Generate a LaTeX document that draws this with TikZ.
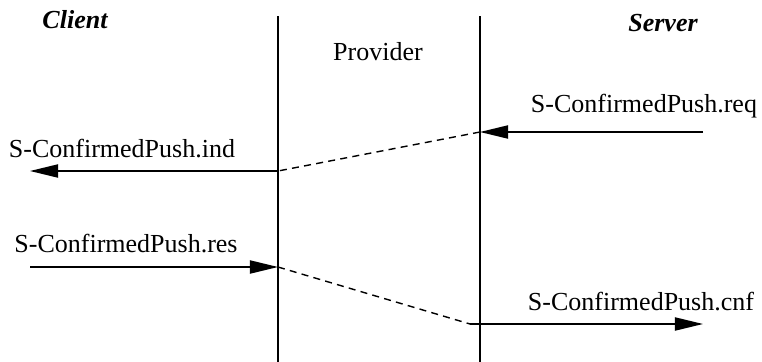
\documentclass[tikz,border=0pt]{standalone}
\usepackage{fontspec}
\setmainfont{Liberation Serif}
\usetikzlibrary{arrows.meta}

\begin{document}
\begin{tikzpicture}[x=0.02cm, y=-0.02cm, font=\fontsize{14.8}{17}\selectfont,
        party/.style={anchor=base, font=\fontsize{14.8}{17}\selectfont\bfseries\itshape},
        prim/.style={anchor=base},
        msg/.style={draw=black, line width=0.9pt, -{Triangle[length=16pt,width=7.5pt]}},
        relay/.style={draw=black, line width=0.8pt, dash pattern=on 4pt off 3pt}]
        \useasboundingbox (0, 0) rectangle (762, 362);

        \coordinate (l_top) at (278, 16);
        \coordinate (l_bot) at (278, 362);
        \coordinate (r_top) at (480, 16);
        \coordinate (r_bot) at (480, 362);

        \coordinate (req_start) at (703, 132);
        \coordinate (req_end) at (480, 132);
        \coordinate (ind_start) at (278, 171);
        \coordinate (ind_end) at (30, 171);
        \coordinate (res_start) at (30, 267);
        \coordinate (res_end) at (278, 267);
        \coordinate (cnf_start) at (470, 324);
        \coordinate (cnf_end) at (703, 324);

        \node[party] (client) at (75, 28) {Client};
        \node[party] (server) at (663, 31) {Server};
        \node[prim] (provider) at (378, 60) {Provider};

        \node[prim] (req_text) at (644, 112) {S-ConfirmedPush.req};
        \node[prim] (ind_text) at (122, 157) {S-ConfirmedPush.ind};
        \node[prim] (res_text) at (126, 252) {S-ConfirmedPush.res};
        \node[prim] (cnf_text) at (641, 310) {S-ConfirmedPush.cnf};

        \draw[draw=black, line width=1pt] (l_top) -- (l_bot);
        \draw[draw=black, line width=1pt] (r_top) -- (r_bot);

        \draw[msg] (req_start) -- (req_end);
        \draw[relay] (req_end) -- (ind_start);
        \draw[msg] (ind_start) -- (ind_end);

        \draw[msg] (res_start) -- (res_end);
        \draw[relay] (res_end) -- (cnf_start);
        \draw[msg] (cnf_start) -- (cnf_end);
    \end{tikzpicture}
\end{document}
